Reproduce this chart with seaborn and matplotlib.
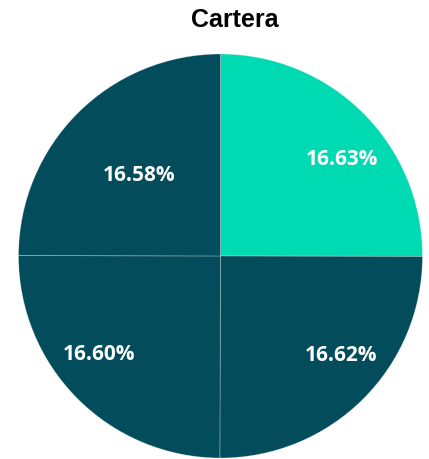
import numpy as np
import matplotlib
matplotlib.use("Agg")
import matplotlib.pyplot as plt
import seaborn as sns

# datos de la cartera
labels = ["A", "B", "C", "D"]
values = [16.63, 16.62, 16.60, 16.58]
colors = ["#00DAB3", "#024C5C", "#024C5C", "#024C5C"]

sns.set_theme(style="white")
plt.rcParams['font.family'] = ['Liberation Sans', 'DejaVu Sans']

fig = plt.figure(figsize=(4.29, 4.60), dpi=100)
ax = fig.add_axes([18 / 429, 1 - 459 / 460, 405 / 429, 404 / 460])

wedges, _ = ax.pie(values, colors=colors, startangle=90, counterclock=False,
                   radius=1, wedgeprops=dict(edgecolor=(1, 1, 1, 0.3), linewidth=0.6))
ax.set_xlim(-1, 1)
ax.set_ylim(-1, 1)
ax.set_aspect('equal')

# posicion de etiquetas (distancia al centro, desplazamiento angular)
lab_r = [0.77, 0.77, 0.77, 0.57]
lab_shift = [-6, 6, -6, 0]
for w, v, r, s in zip(wedges, values, lab_r, lab_shift):
    ang = np.deg2rad((w.theta1 + w.theta2) / 2 + s)
    ax.text(r * np.cos(ang), r * np.sin(ang), f"{v:.2f}%", ha='center', va='center',
            color='white', fontsize=15, fontweight='bold', family=['Open Sans', 'DejaVu Sans'])

fig.text(235 / 429, 1 - 20 / 460, "Cartera", ha='center', va='center',
         fontsize=18, fontweight='bold', color='black')

fig.savefig("out.png", dpi=100)
